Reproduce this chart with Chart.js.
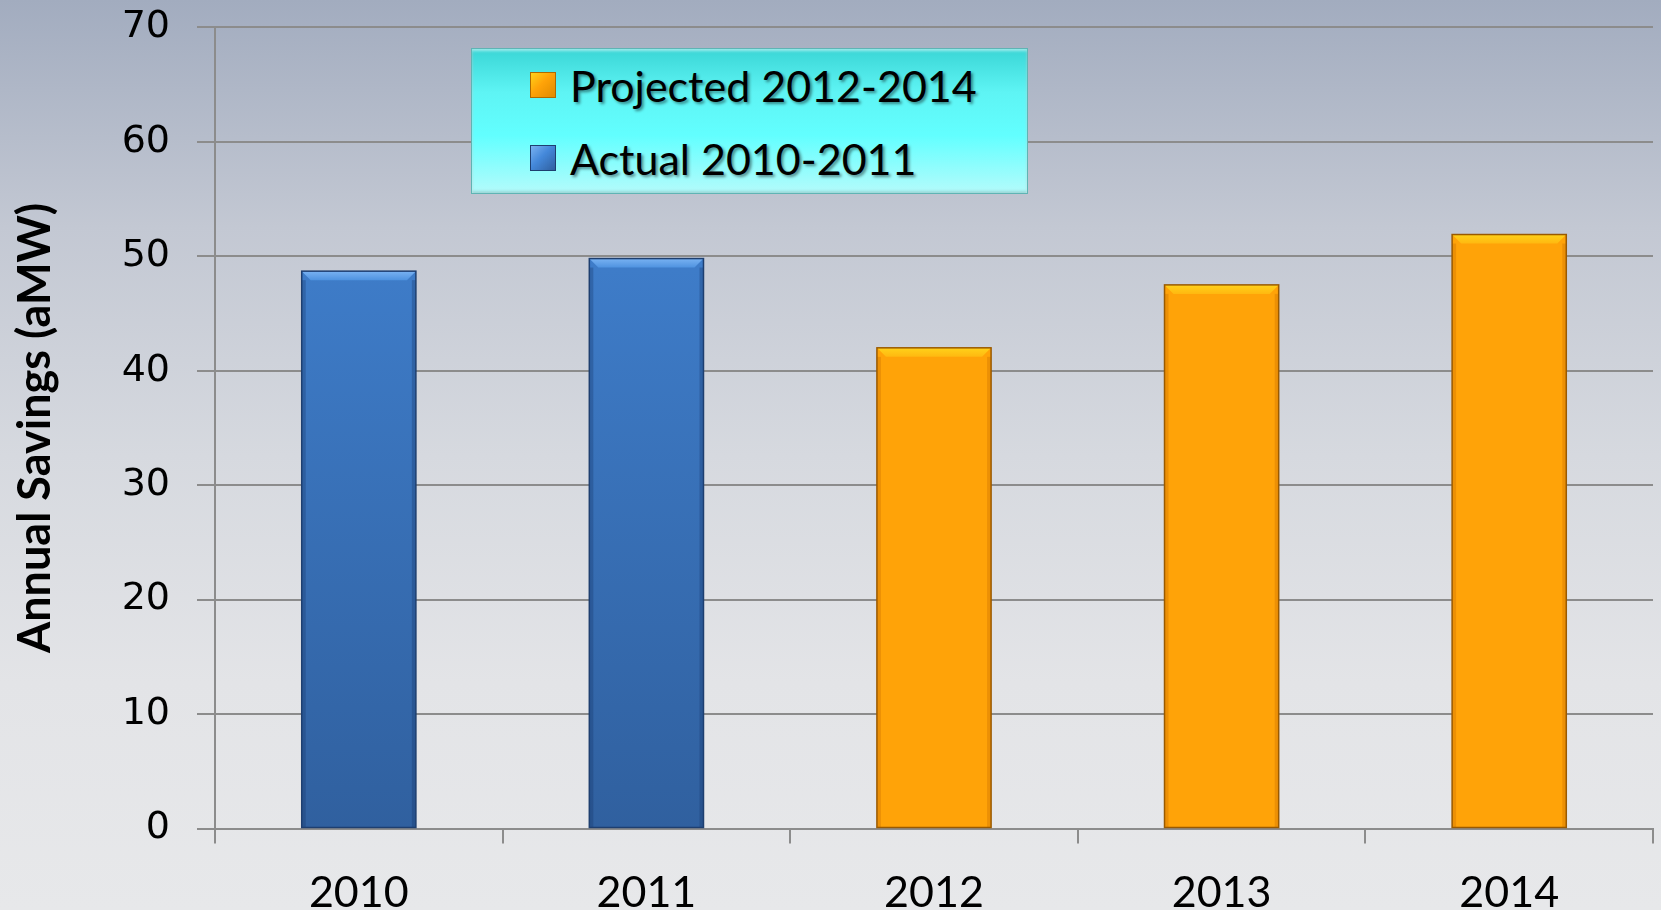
<!DOCTYPE html>
<html>
<head>
<meta charset="utf-8">
<script src="https://cdn.jsdelivr.net/npm/chart.js@4.4.1/dist/chart.umd.min.js"></script>
<style>
  html, body { margin: 0; padding: 0; }
  body {
    width: 1661px; height: 910px; overflow: hidden; position: relative;
    background: linear-gradient(to bottom, #a2acbf 0%, #c3c8d3 25%, #d6d9df 50%, #e3e4e7 75%, #e7e8ea 100%);
  }
  #legend {
    position: absolute; left: 471px; top: 48px; width: 555px; height: 144px;
    border: 1px solid #5fb4b4;
    background: linear-gradient(to bottom, #3ad6d6 0%, #5ef4f4 30%, #62ffff 60%, #b4fbfb 100%);
    box-shadow: inset 0 2px 3px rgba(255,255,255,0.5), inset 0 -2px 3px rgba(0,0,0,0.15);
    font-family: Lato, sans-serif; font-size: 43px; color: #000;
  }
  .item { position: absolute; left: 58px; height: 50px; display: flex; align-items: center; }
  .sw { width: 26px; height: 26px; margin-right: 14px; box-sizing: border-box; }
  .lbl { text-shadow: 2px 2px 3px rgba(0,0,0,0.45); }
</style>
</head>
<body>
<canvas id="c1" width="1661" height="910"></canvas>
<div id="legend"></div>
<script>
(function(divId){
    var years = ['2010', '2011', '2012', '2013', '2014'];
    var actual = [48.7, 49.8, null, null, null];
    var projected = [null, null, 42, 47.5, 51.9];
    var yTicks = [0, 10, 20, 30, 40, 50, 60, 70];

    var blueTop = '#4488da', blueBottom = '#30609f';
    var orange = '#ffa308';

    function blueFill(c) {
        var area = c.chart.chartArea;
        if (!area) return blueTop;
        var g = c.chart.ctx.createLinearGradient(0, area.top, 0, area.bottom);
        g.addColorStop(0, blueTop);
        g.addColorStop(1, blueBottom);
        return g;
    }

    // bevel on top / sides of each bar, using the library's bar positions
    var bevel = {
        id: 'bevel',
        afterDatasetsDraw: function(chart) {
            var ctx = chart.ctx;
            chart.data.datasets.forEach(function(ds, i) {
                var meta = chart.getDatasetMeta(i);
                meta.data.forEach(function(bar, j) {
                    if (ds.data[j] == null) return;
                    var p = bar.getProps(['x', 'y', 'base', 'width'], true);
                    var l = p.x - p.width / 2, r = p.x + p.width / 2, b = 9;
                    ctx.save();
                    ctx.beginPath();
                    ctx.moveTo(l, p.y); ctx.lineTo(r, p.y); ctx.lineTo(r - b, p.y + b); ctx.lineTo(l + b, p.y + b);
                    ctx.closePath();
                    var g = ctx.createLinearGradient(0, p.y, 0, p.y + b);
                    g.addColorStop(0, ds.bevelTop);
                    g.addColorStop(1, ds.bevelMid);
                    ctx.fillStyle = g;
                    ctx.fill();
                    ctx.fillStyle = ds.sideColor;
                    ctx.fillRect(l, p.y + b, 4, p.base - p.y - b);
                    ctx.fillRect(r - 4, p.y + b, 4, p.base - p.y - b);
                    ctx.strokeStyle = ds.edgeColor;
                    ctx.lineWidth = 1.5;
                    ctx.strokeRect(l, p.y, p.width, p.base - p.y);
                    ctx.restore();
                });
            });
        }
    };

    var data = {
        labels: years,
        datasets: [
            {
                label: 'Projected 2012-2014',
                data: projected,
                backgroundColor: orange,
                bevelTop: '#ffd21a', bevelMid: '#ffb810',
                sideColor: 'rgba(200,110,0,0.35)', edgeColor: '#9a5a00',
                borderWidth: 0
            },
            {
                label: 'Actual 2010-2011',
                data: actual,
                backgroundColor: blueFill,
                bevelTop: '#79b2f2', bevelMid: '#4f93e0',
                sideColor: 'rgba(20,50,100,0.3)', edgeColor: '#1e3f70',
                borderWidth: 0
            }
        ]
    };

    var options = {
        responsive: false,
        animation: false,
        layout: { padding: { top: 0, right: 8, left: 0, bottom: 0 } },
        plugins: { legend: { display: false }, tooltip: { enabled: false } },
        datasets: { bar: { categoryPercentage: 1, barPercentage: 0.397 } },
        scales: {
            x: {
                stacked: true,
                grid: { drawOnChartArea: false, drawTicks: true, tickLength: 15, color: '#8c8c8c', lineWidth: 2, offset: true },
                border: { color: '#8c8c8c', width: 2 },
                ticks: { color: '#000', padding: 24, font: { family: 'Lato', size: 43 } },
                afterFit: function(s) { s.height = 81.5; }
            },
            y: {
                stacked: true,
                min: 0, max: 70,
                afterBuildTicks: function(s) { s.ticks = yTicks.map(function(v) { return { value: v }; }); },
                grid: { color: '#8c8c8c', lineWidth: 2, tickLength: 18 },
                border: { color: '#8c8c8c', width: 2 },
                ticks: { color: '#000', padding: 27, font: { family: 'DejaVu Sans', size: 38, lineHeight: 0.02 } },
                title: { display: true, text: 'Annual Savings (aMW)', color: '#000', padding: { top: 8, bottom: 0 },
                         font: { family: 'Lato', size: 45, weight: 'bold', lineHeight: 1.2 } },
                afterFit: function(s) { s.width = 215; }
            }
        }
    };

    var div = document.getElementById(divId);
    if (!div)
        return;

    var ctx = div.getContext("2d");
    var chart = new Chart(ctx, {
        type: 'bar',
        data: data,
        options: options,
        plugins: [bevel]
    });

    // legend box built from the datasets
    var legend = document.getElementById('legend');
    var swatches = [
        'linear-gradient(135deg, #ffd21a 0%, #ffa308 45%, #e08a00 100%)',
        'linear-gradient(135deg, #79b2f2 0%, #4488da 45%, #30609f 100%)'
    ];
    var borders = ['#b06a00', '#1e3f70'];
    data.datasets.forEach(function(ds, i) {
        var item = document.createElement('div');
        item.className = 'item';
        item.style.top = (11 + i * 73) + 'px';
        var sw = document.createElement('div');
        sw.className = 'sw';
        sw.style.background = swatches[i];
        sw.style.border = '1px solid ' + borders[i];
        var t = document.createElement('span');
        t.className = 'lbl';
        t.textContent = ds.label;
        item.appendChild(sw);
        item.appendChild(t);
        legend.appendChild(item);
    });
})("c1");
</script>
</body>
</html>
